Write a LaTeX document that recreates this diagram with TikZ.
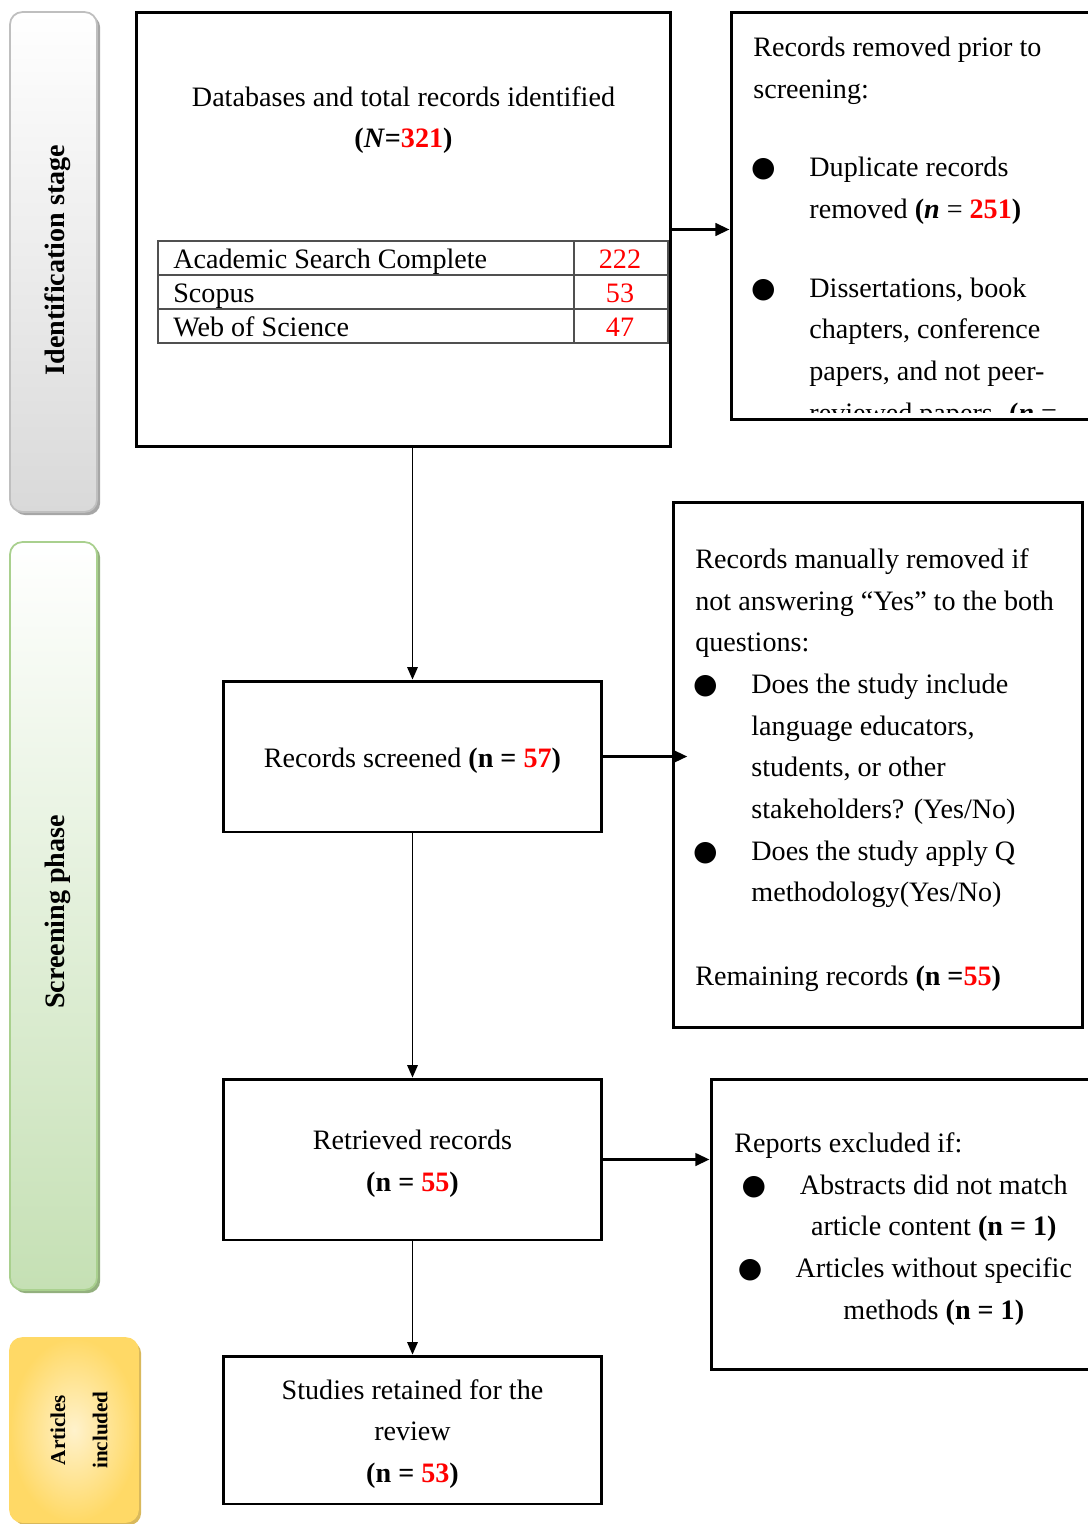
\documentclass[tikz,border=0pt]{standalone}
\usepackage{fontspec}
\setmainfont{Liberation Serif}
\newfontfamily\symfont{DejaVu Sans}
\usepackage{xcolor}
\usetikzlibrary{arrows.meta,positioning,calc,shadows}
\definecolor{greyDk}  {HTML}{D9D9D9}
\definecolor{greyRim} {HTML}{BFBFBF}
\definecolor{greyShd} {HTML}{A6A6A6}
\definecolor{greenDk} {HTML}{C5E0B4}
\definecolor{greenRim}{HTML}{A9D08E}
\definecolor{greenShd}{HTML}{93B07E}
\definecolor{goldLt}  {HTML}{FFF2CC}
\definecolor{goldDk}  {HTML}{FFD966}
\definecolor{goldShd} {HTML}{D9B95C}
\definecolor{gridgrey}{HTML}{505050}
\newcommand{\bul}{\makebox[31.9pt][l]{\hspace*{-1.3pt}{\symfont ●}}}
\newcommand{\red}[1]{\textbf{\textcolor{red}{#1}}}

\begin{document}
\begin{tikzpicture}[x=0.02cm, y=-0.02cm,
  frame/.style={draw, line width=1.7pt, inner sep=0pt},
  txt/.style={inner sep=0pt, align=left, font=\fontsize{16}{23.7}\selectfont},
  mid/.style={txt, align=center, yshift=-2.3pt},
  cell/.style={inner sep=0pt, font=\fontsize{16}{20}\selectfont},
  gridline/.style={draw=gridgrey, line width=0.6pt},
  flow/.style={-{Triangle[length=7pt,width=6pt]}, line width=0.6pt},
  flowbold/.style={-{Triangle[length=8pt,width=7pt]}, line width=1.7pt},
  stage/.style={rounded corners=7pt, line width=1pt, inner sep=0pt},
  stagelabel/.style={rotate=90, inner sep=0pt, align=center,
                     font=\bfseries\fontsize{16}{24}\selectfont}]
 \useasboundingbox (0,0) rectangle (1088,1524);

 % stage bars on the left
 \node[stage, draw=greyRim, top color=white, bottom color=greyDk,
       drop shadow={shadow xshift=1.8pt, shadow yshift=-1.8pt, fill=greyShd, opacity=1},
       minimum width=1.74cm, minimum height=10cm] (idbar) at (53.5,262) {};
 \node[stagelabel] (idlab) at (58,260) {Identification stage};
 \node[stage, draw=greenRim, top color=white, bottom color=greenDk,
       drop shadow={shadow xshift=1.8pt, shadow yshift=-1.8pt, fill=greenShd, opacity=1},
       minimum width=1.74cm, minimum height=14.96cm] (scrbar) at (53.5,916) {};
 \node[stagelabel] (scrlab) at (58,912) {Screening phase};
 \node[stage, draw=goldDk, inner color=goldLt, outer color=goldDk,
       drop shadow={shadow xshift=1.8pt, shadow yshift=-1.8pt, fill=goldShd, opacity=1},
       minimum width=2.56cm, minimum height=3.68cm] (artbar) at (74,1430) {};
 \node[stagelabel, font=\bfseries\fontsize{12}{24}\selectfont] (artlab) at (79,1430)
   {Articles\\included};

 % identification
 \node[frame, minimum width=10.7cm, minimum height=8.7cm] (db) at (403.5,229.5) {};
 \node[txt, align=center, anchor=base] (dbtxt) at (403.5,148)
   {Databases and total records identified\\
    \textbf{(\textit{N}=\textcolor{red}{321})}};
 \draw[gridline] (158,241) rectangle (668,343);
 \foreach \y in {275,309}
   \draw[gridline] (158,\y) -- (668,\y);
 \draw[gridline] (574,241) -- (574,343);
 \foreach \src/\num [count=\i] in {Academic Search Complete/222, Scopus/53, Web of Science/47}{
   \node[cell, anchor=base west] (src\i) at (173,{234+34*\i}) {\src};
   \node[cell, anchor=base, text=red] (num\i) at (620,{234+34*\i}) {\num};
 }

 \node[frame, minimum width=7.38cm, minimum height=8.16cm] (prior) at (915.5,216) {};
 \begin{scope}
  \clip (731,12) rectangle (1088,412);
  \node[txt, anchor=base west] (priortxt) at (753,422)
    {Records removed prior to\\
     screening:\\[21pt]
     \bul Duplicate records\\
     \hspace*{31.9pt}removed \textbf{(\textit{n}} = \red{251}\textbf{)}\\[21pt]
     \bul Dissertations, book\\
     \hspace*{31.9pt}chapters, conference\\
     \hspace*{31.9pt}papers, and not peer-\\
     \hspace*{31.9pt}reviewed papers. \textbf{(\textit{n}} =};
 \end{scope}

 % screening
 \node[frame, minimum width=7.58cm, minimum height=3.02cm] (screened) at (412.5,756.5) {};
 \node[mid] (screenedtxt) at (screened.center)
   {Records screened \textbf{(n =} \red{57}\textbf{)}};
 \node[frame, minimum width=8.2cm, minimum height=10.52cm] (crit) at (878,765) {};
 \node[txt, anchor=base west] (crittxt) at (695,985)
   {Records manually removed if\\
    not answering “Yes” to the both\\
    questions:\\
    \bul Does the study include\\
    \hspace*{31.9pt}language educators,\\
    \hspace*{31.9pt}students, or other\\
    \hspace*{31.9pt}stakeholders? (Yes/No)\\
    \bul Does the study apply Q\\
    \hspace*{31.9pt}methodology(Yes/No)\\[23.7pt]
    Remaining records \textbf{(n =}\red{55}\textbf{)}};

 \node[frame, minimum width=7.58cm, minimum height=3.22cm] (retr) at (412.5,1159.5) {};
 \node[mid] (retrtxt) at (retr.center)
   {Retrieved records\\ \textbf{(n =} \red{55}\textbf{)}};
 \node[frame, minimum width=7.78cm, minimum height=5.82cm] (excl) at (905.5,1224.5) {};
 \node[txt, anchor=base west] (excltxt) at (734,1319)
   {Reports excluded if:\\
    \rlap{\hspace*{4.2pt}{\symfont ●}}\makebox[227pt][c]{Abstracts did not match}\\
    \makebox[227pt][c]{article content \textbf{(n = 1)}}\\
    \rlap{\hspace*{2pt}{\symfont ●}}\makebox[227pt][c]{Articles without specific}\\
    \makebox[227pt][c]{methods \textbf{(n = 1)}}};

 % included
 \node[frame, minimum width=7.58cm, minimum height=2.96cm] (kept) at (412.5,1430) {};
 \node[mid] (kepttxt) at (kept.center)
   {Studies retained for the\\ review\\ \textbf{(n =} \red{53}\textbf{)}};

 % connectors
 \draw[flowbold] (db.east) -- (db.east -| prior.west);
 \draw[flow] (db.south -| screened.north) -- (screened.north);
 \draw[flowbold, shorten >=-9pt] (screened.east) -- (screened.east -| crit.west);
 \draw[flow] (screened.south) -- (retr.north);
 \draw[flowbold] (retr.east) -- (retr.east -| excl.west);
 \draw[flow] (retr.south) -- (kept.north);
\end{tikzpicture}
\end{document}
